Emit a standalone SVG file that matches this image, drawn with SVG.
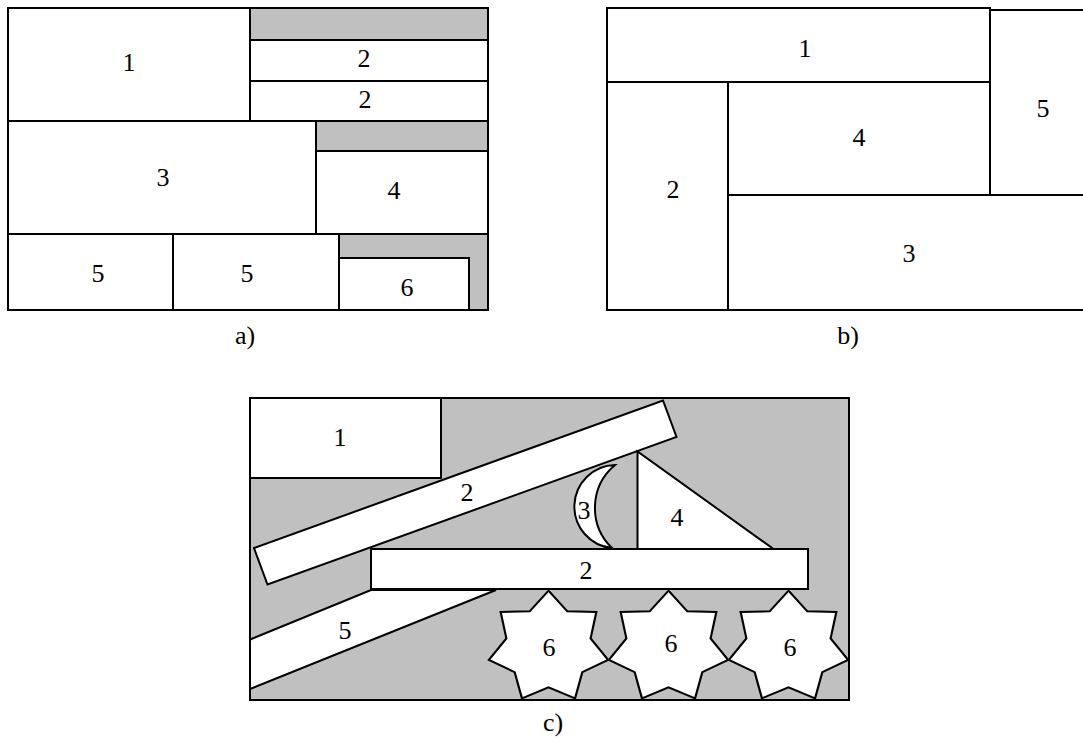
<svg xmlns="http://www.w3.org/2000/svg" width="1083" height="740" viewBox="0 0 1083 740">
  <style>
    .box { fill: #ffffff; stroke: #000000; stroke-width: 2; stroke-linejoin: miter; }
    .gray { fill: #c0c0c0; stroke: none; }
    .frame { fill: none; stroke: #000000; stroke-width: 2; }
    .lbl { font-family: "Liberation Serif", "Times New Roman", serif; font-size: 26px; fill: #000000; text-anchor: middle; }
  </style>
  <defs>
    <!-- seven-pointed star, outer radius 56.6, inner radius 40, stretched slightly in x -->
    <polygon id="star7" class="box" transform="scale(1.08,1)"
      points="0,-56.6 17.4,-36.0 44.3,-35.3 39.0,-8.9 55.2,12.6 31.3,24.9 24.6,51.0 0,40.0 -24.6,51.0 -31.3,24.9 -55.2,12.6 -39.0,-8.9 -44.3,-35.3 -17.4,-36.0"/>
  </defs>
  <rect width="1083" height="740" fill="#ffffff"/>

  <!-- Panel a: strip packing with gaps -->
  <g id="panel-a">
    <rect class="gray" x="8" y="8" width="480" height="302"/>
    <g id="a-1"><rect class="box" x="8" y="8" width="242" height="113"/><text class="lbl" x="129" y="71">1</text></g>
    <g id="a-2a"><rect class="box" x="250" y="40" width="238" height="41"/><text class="lbl" x="364" y="67">2</text></g>
    <g id="a-2b"><rect class="box" x="250" y="81" width="238" height="40"/><text class="lbl" x="365" y="108">2</text></g>
    <g id="a-3"><rect class="box" x="8" y="121" width="308" height="113"/><text class="lbl" x="163" y="186">3</text></g>
    <g id="a-4"><rect class="box" x="316" y="151" width="172" height="83"/><text class="lbl" x="394" y="199">4</text></g>
    <g id="a-5a"><rect class="box" x="8" y="234" width="165" height="76"/><text class="lbl" x="98" y="282">5</text></g>
    <g id="a-5b"><rect class="box" x="173" y="234" width="166" height="76"/><text class="lbl" x="247" y="282">5</text></g>
    <g id="a-6"><rect class="box" x="339" y="258" width="130" height="52"/><text class="lbl" x="407" y="296">6</text></g>
    <line x1="316" y1="121" x2="316" y2="151" stroke="#000" stroke-width="2"/>
    <line x1="339" y1="234" x2="339" y2="258" stroke="#000" stroke-width="2"/>
    <rect class="frame" x="8" y="8" width="480" height="302"/>
    <text class="lbl" x="245" y="344">a)</text>
  </g>

  <!-- Panel b: guillotine layout without gaps -->
  <g id="panel-b">
    <g id="b-1"><rect class="box" x="607" y="8" width="383" height="74"/><text class="lbl" x="805" y="57">1</text></g>
    <g id="b-5"><rect class="box" x="990" y="10" width="100" height="185"/><text class="lbl" x="1043" y="117">5</text></g>
    <g id="b-2"><rect class="box" x="607" y="82" width="121" height="228"/><text class="lbl" x="673" y="198">2</text></g>
    <g id="b-4"><rect class="box" x="728" y="82" width="262" height="113"/><text class="lbl" x="859" y="146">4</text></g>
    <g id="b-3"><rect class="box" x="728" y="195" width="362" height="115"/><text class="lbl" x="909" y="262">3</text></g>
    <text class="lbl" x="848" y="344">b)</text>
  </g>

  <!-- Panel c: irregular shapes nested in a sheet -->
  <g id="panel-c">
    <rect class="gray" x="250" y="398" width="599" height="302"/>
    <g id="c-1"><rect class="box" x="250" y="398" width="191" height="80"/><text class="lbl" x="340" y="446">1</text></g>
    <g id="c-5"><polygon class="box" points="250,639.5 371,590 496,590 250,689"/><text class="lbl" x="345" y="639">5</text></g>
    <g id="c-2a"><polygon class="box" points="254,548 663,400.5 676.5,437 267.5,584.5"/><text class="lbl" x="467" y="501">2</text></g>
    <g id="c-3"><path class="box" d="M615,465 A41.6,41.6 0 0 0 612,548 A55.8,55.8 0 0 1 615,465 Z"/><text class="lbl" x="584" y="519">3</text></g>
    <g id="c-4"><polygon class="box" points="637.5,451.5 637.5,549 773.5,549"/><text class="lbl" x="677" y="526">4</text></g>
    <g id="c-2b"><rect class="box" x="371" y="549" width="437" height="40"/><text class="lbl" x="586" y="579">2</text></g>
    <g id="c-6a"><use href="#star7" transform="translate(548.5,647.3)"/><text class="lbl" x="549" y="656">6</text></g>
    <g id="c-6b"><use href="#star7" transform="translate(668.5,647.3)"/><text class="lbl" x="671" y="652">6</text></g>
    <g id="c-6c"><use href="#star7" transform="translate(788.5,647.3)"/><text class="lbl" x="790" y="656">6</text></g>
    <rect class="frame" x="250" y="398" width="599" height="302"/>
    <text class="lbl" x="553" y="731">c)</text>
  </g>
</svg>
